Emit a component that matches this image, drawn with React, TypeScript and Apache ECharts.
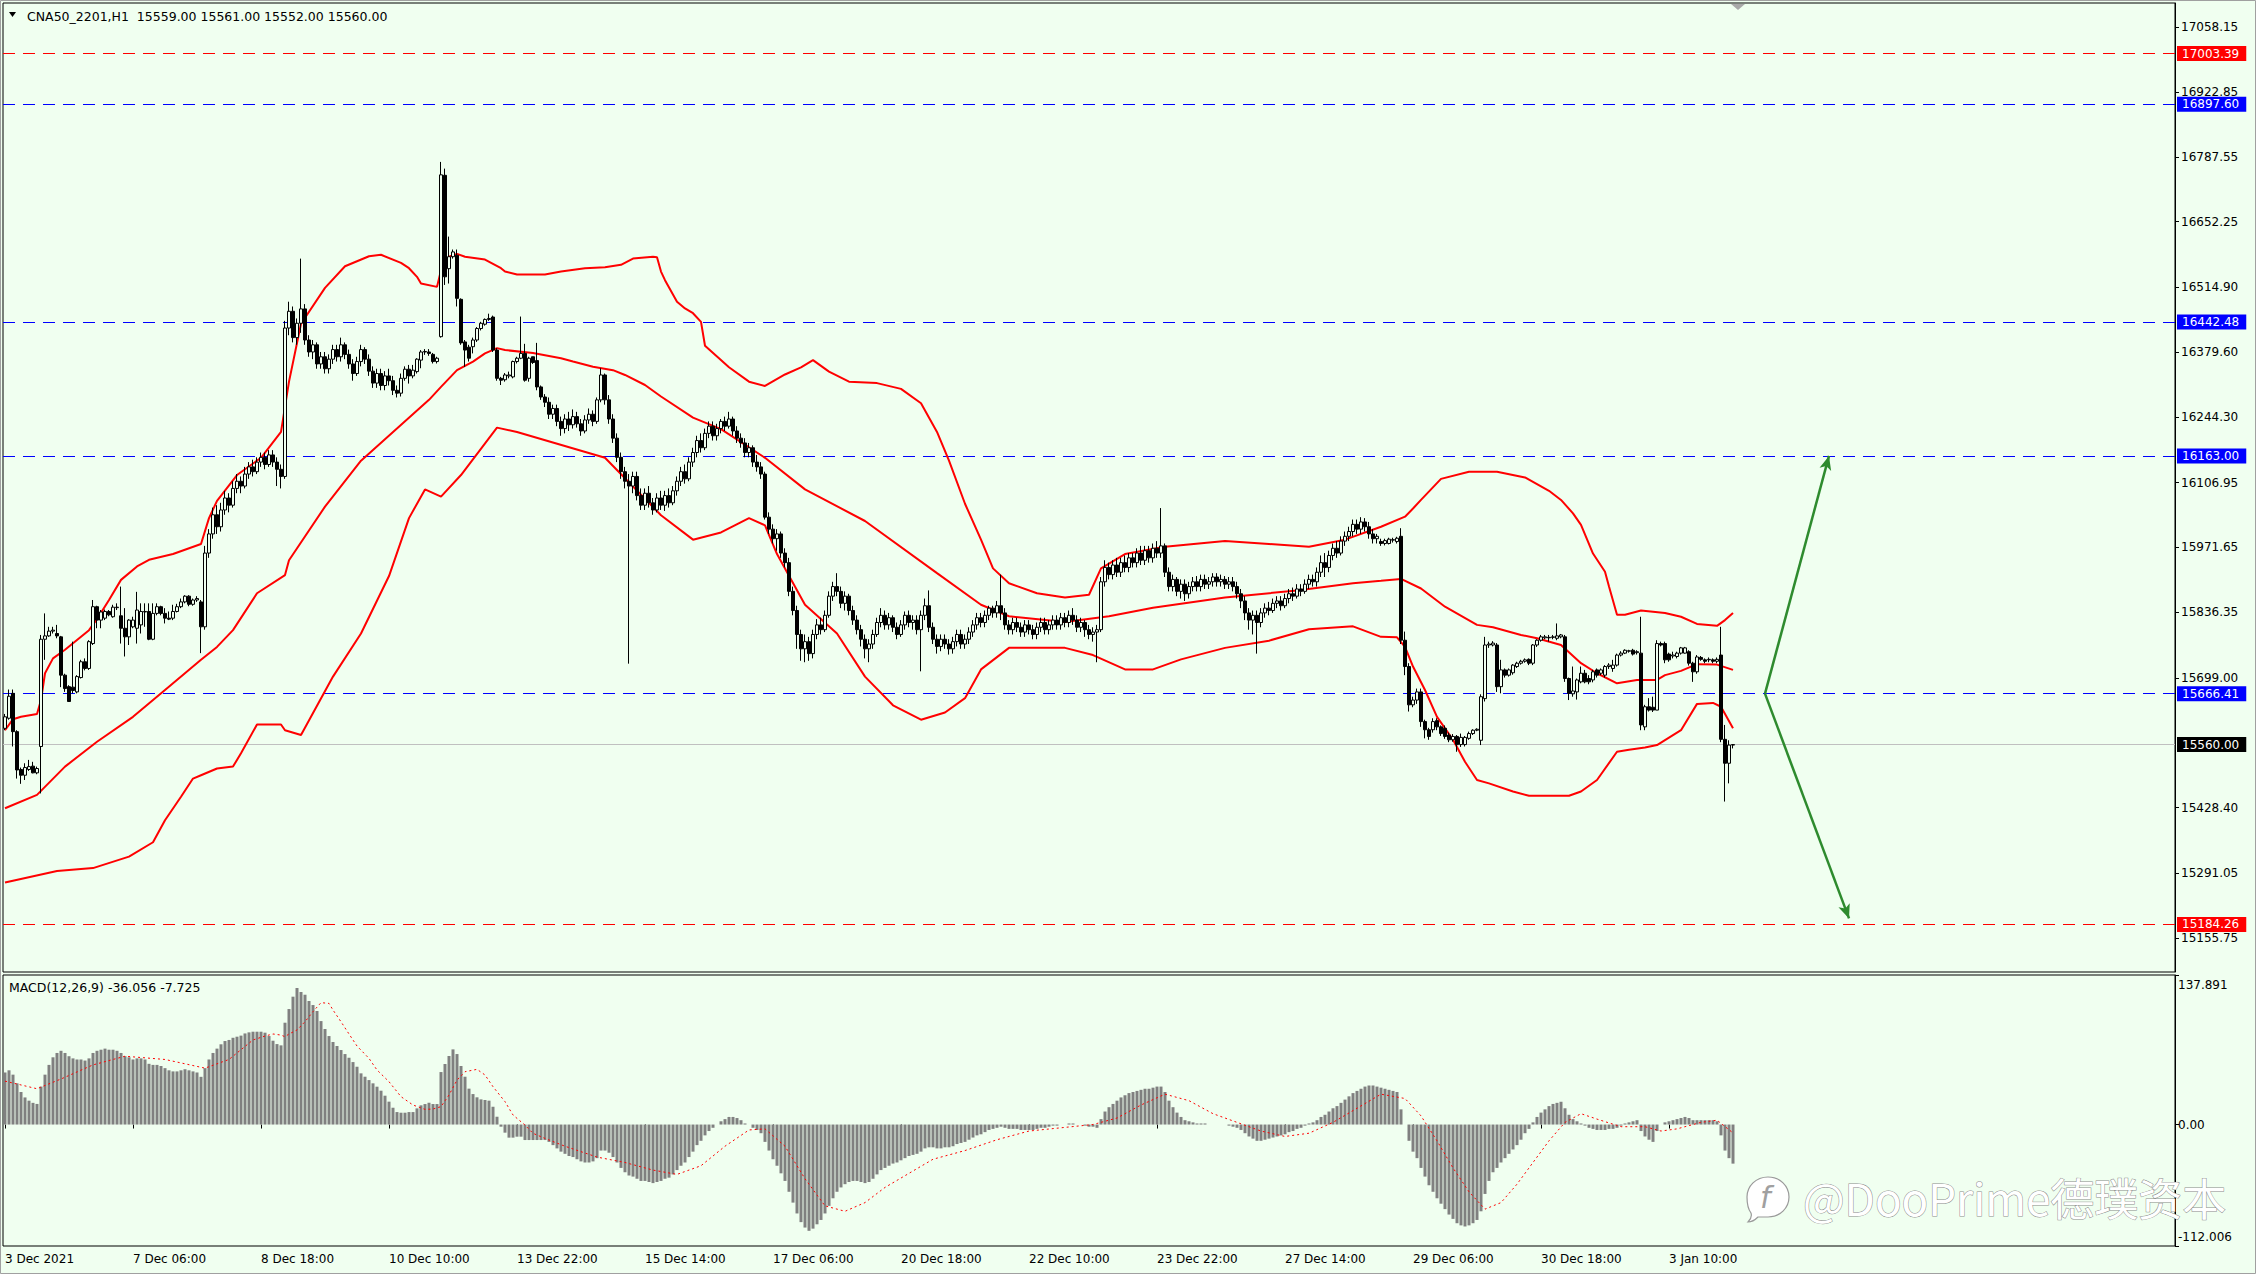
import React, { useEffect, useRef } from "react";
import * as echarts from "echarts";

const BG = "#F0FFF0";
const FONT = '"DejaVu Sans", Tahoma, sans-serif';

const chartTitle = "CNA50_2201,H1  15559.00 15561.00 15552.00 15560.00";
const macdTitle = "MACD(12,26,9) -36.056 -7.725";
const watermark = "@DooPrime德璞资本";

const timeLabels = [
  "3 Dec 2021", "7 Dec 06:00", "8 Dec 18:00", "10 Dec 10:00", "13 Dec 22:00",
  "15 Dec 14:00", "17 Dec 06:00", "20 Dec 18:00", "22 Dec 10:00", "23 Dec 22:00",
  "27 Dec 14:00", "29 Dec 06:00", "30 Dec 18:00", "3 Jan 10:00",
];
const TIME_STEP = 32;
const EMPTY_BARS = 110;

const priceMin = 15085.0;
const priceMax = 17108.9;
const priceTicks = [
  17058.15, 16922.85, 16787.55, 16652.25, 16514.9, 16379.6, 16244.3,
  16106.95, 15971.65, 15836.35, 15699.0, 15428.4, 15291.05, 15155.75,
];
const macdMin = -112.006;
const macdMax = 137.891;
const macdTicks = [137.891, 0, -112.006];
const macdTickText = ["137.891", "0.00", "-112.006"];

const resistanceLevels = [17003.39, 15184.26];
const supportLevels = [16897.6, 16442.48, 16163.0, 15666.41];
const lastPrice = 15560.0;
const arrowStart = [440, 15666.41];
const arrowUpEnd = [456, 16163.0];
const arrowDownEnd = [461, 15197.0];

// [open, close, low, high]
const candles: number[][] = [
  [15594,15618,15590,15624],[15615,15661,15612,15675],[15667,15587,15556,15675],[15587,15507,15489,15590],[15508,15496,15478,15512],
  [15496,15512,15486,15521],[15508,15514,15505,15528],[15515,15501,15500,15524],[15501,15510,15498,15514],[15556,15780,15458,15789],
  [15780,15787,15737,15834],[15787,15797,15785,15806],[15797,15799,15792,15806],[15792,15787,15782,15810],[15785,15705,15680,15787],
  [15705,15677,15670,15708],[15681,15650,15650,15684],[15680,15673,15667,15775],[15670,15702,15667,15705],[15700,15733,15698,15737],
  [15733,15719,15715,15740],[15719,15775,15716,15778],[15771,15848,15768,15862],[15848,15820,15803,15850],[15820,15837,15803,15841],
  [15824,15838,15820,15842],[15838,15831,15828,15841],[15827,15847,15825,15852],[15846,15847,15841,15855],[15829,15803,15771,15890],
  [15803,15785,15744,15845],[15785,15820,15768,15822],[15806,15820,15803,15827],[15803,15841,15771,15879],[15810,15838,15792,15855],
  [15837,15838,15806,15855],[15838,15780,15778,15855],[15780,15834,15778,15855],[15834,15848,15830,15855],[15848,15834,15830,15850],
  [15834,15824,15813,15845],[15824,15822,15820,15838],[15824,15838,15820,15852],[15838,15848,15836,15854],[15848,15858,15845,15865],
  [15858,15870,15855,15872],[15870,15853,15849,15872],[15853,15862,15850,15865],[15862,15865,15858,15870],[15858,15806,15751,15862],
  [15806,15960,15800,15975],[15960,16000,15950,16010],[16000,16040,15990,16055],[16040,16015,16000,16060],[16015,16050,16005,16065],
  [16050,16075,16040,16090],[16075,16060,16045,16085],[16060,16095,16055,16110],[16095,16110,16085,16125],[16110,16100,16085,16120],
  [16100,16125,16095,16140],[16125,16140,16115,16150],[16140,16130,16120,16155],[16130,16150,16125,16160],[16150,16160,16140,16170],
  [16160,16145,16135,16170],[16145,16165,16140,16175],[16165,16150,16140,16175],[16150,16135,16100,16160],[16135,16120,16095,16145],
  [16120,16430,16115,16445],[16430,16465,16415,16485],[16465,16410,16400,16475],[16410,16440,16395,16450],[16440,16470,16420,16575],
  [16470,16405,16395,16480],[16405,16380,16370,16415],[16380,16395,16365,16405],[16395,16355,16345,16400],[16355,16370,16345,16380],
  [16370,16345,16335,16380],[16345,16365,16335,16375],[16365,16385,16355,16395],[16385,16370,16360,16395],[16370,16395,16360,16410],
  [16395,16375,16365,16400],[16375,16355,16345,16385],[16355,16335,16320,16365],[16335,16360,16330,16370],[16360,16385,16350,16395],
  [16385,16365,16355,16390],[16365,16340,16330,16375],[16340,16315,16305,16350],[16315,16335,16305,16345],[16335,16310,16300,16345],
  [16310,16330,16300,16340],[16330,16320,16310,16345],[16320,16300,16290,16330],[16300,16294,16285,16310],[16294,16325,16287,16335],
  [16325,16344,16320,16350],[16344,16330,16314,16353],[16330,16342,16325,16353],[16339,16365,16335,16367],[16363,16380,16346,16384],
  [16380,16381,16374,16386],[16380,16377,16372,16386],[16375,16360,16356,16378],[16360,16367,16356,16370],[16412,16750,16410,16777],
  [16749,16537,16520,16763],[16554,16579,16523,16621],[16579,16589,16575,16594],[16582,16492,16475,16594],[16490,16399,16395,16492],
  [16401,16384,16349,16405],[16390,16367,16360,16395],[16391,16405,16377,16410],[16405,16429,16401,16432],[16429,16440,16425,16443],
  [16438,16448,16435,16450],[16448,16450,16445,16460],[16453,16384,16380,16456],[16384,16325,16320,16388],[16325,16321,16311,16328],
  [16322,16332,16318,16336],[16330,16332,16325,16339],[16328,16360,16325,16362],[16360,16367,16356,16370],[16367,16377,16365,16454],
  [16377,16321,16318,16397],[16325,16367,16318,16370],[16370,16358,16355,16370],[16362,16307,16300,16399],[16307,16286,16280,16310],
  [16286,16275,16265,16292],[16275,16250,16240,16285],[16250,16262,16240,16270],[16262,16235,16225,16270],[16235,16220,16205,16245],
  [16220,16240,16210,16250],[16240,16228,16215,16255],[16228,16245,16220,16260],[16245,16230,16222,16255],[16230,16215,16205,16240],
  [16215,16238,16210,16248],[16238,16250,16230,16262],[16250,16235,16225,16258],[16235,16280,16230,16285],[16280,16332,16275,16346],
  [16332,16280,16270,16335],[16280,16240,16230,16290],[16240,16200,16190,16250],[16200,16160,16150,16210],[16160,16130,16115,16170],
  [16130,16110,16095,16140],[16110,16100,15729,16125],[16100,16120,16085,16130],[16120,16080,16070,16130],[16080,16060,16050,16095],
  [16060,16085,16050,16095],[16085,16065,16055,16100],[16065,16050,16040,16075],[16050,16075,16045,16085],[16075,16060,16050,16090],
  [16060,16080,16048,16090],[16080,16065,16055,16095],[16065,16090,16060,16100],[16090,16110,16080,16120],[16110,16130,16100,16140],
  [16130,16115,16105,16145],[16115,16150,16110,16160],[16150,16170,16140,16180],[16170,16195,16160,16205],[16195,16180,16170,16210],
  [16180,16210,16175,16220],[16210,16225,16200,16235],[16225,16205,16195,16235],[16205,16220,16195,16230],[16220,16235,16210,16240],
  [16235,16225,16215,16245],[16225,16240,16220,16255],[16240,16215,16205,16245],[16215,16200,16190,16225],[16200,16190,16180,16210],
  [16190,16170,16160,16200],[16170,16180,16160,16190],[16180,16150,16140,16185],[16150,16140,16130,16165],[16140,16125,16115,16150],
  [16125,16035,16030,16130],[16035,16010,16000,16045],[16010,15990,15980,16020],[15990,16000,15965,16010],[16000,15960,15950,16005],
  [15960,15940,15930,15970],[15940,15880,15870,15950],[15880,15840,15830,15890],[15840,15790,15760,15850],[15790,15760,15735,15800],
  [15760,15775,15732,15790],[15775,15750,15735,15785],[15750,15790,15740,15800],[15790,15810,15780,15822],[15810,15800,15790,15825],
  [15800,15830,15795,15840],[15830,15870,15825,15880],[15870,15890,15860,15900],[15890,15880,15870,15918],[15880,15855,15845,15890],
  [15855,15870,15840,15880],[15870,15840,15830,15875],[15840,15820,15810,15850],[15820,15800,15790,15830],[15800,15780,15765,15810],
  [15780,15760,15740,15790],[15760,15770,15732,15780],[15770,15790,15760,15800],[15790,15815,15785,15825],[15815,15830,15805,15845],
  [15830,15810,15800,15840],[15810,15825,15800,15835],[15825,15805,15795,15830],[15805,15790,15780,15815],[15790,15810,15785,15820],
  [15810,15830,15800,15838],[15830,15815,15805,15840],[15815,15820,15800,15830],[15820,15800,15790,15830],[15800,15830,15713,15840],
  [15830,15850,15820,15865],[15850,15805,15795,15882],[15805,15780,15770,15815],[15780,15765,15750,15790],[15765,15780,15755,15790],
  [15780,15770,15760,15790],[15770,15760,15748,15780],[15760,15775,15750,15785],[15775,15790,15765,15800],[15790,15770,15760,15800],
  [15770,15780,15760,15790],[15780,15795,15770,15805],[15795,15810,15785,15820],[15810,15825,15800,15835],[15825,15815,15805,15835],
  [15815,15830,15805,15840],[15830,15845,15820,15850],[15845,15835,15825,15850],[15835,15850,15825,15860],[15850,15835,15820,15915],
  [15835,15810,15800,15845],[15810,15800,15790,15820],[15800,15815,15790,15825],[15815,15805,15795,15825],[15805,15795,15785,15815],
  [15795,15810,15785,15820],[15810,15800,15790,15820],[15800,15790,15780,15810],[15790,15805,15780,15815],[15805,15815,15795,15825],
  [15815,15800,15790,15825],[15800,15810,15790,15820],[15810,15820,15800,15830],[15820,15810,15800,15830],[15810,15825,15800,15835],
  [15825,15815,15805,15835],[15815,15830,15805,15840],[15830,15820,15810,15845],[15820,15805,15795,15830],[15805,15815,15795,15825],
  [15815,15800,15785,15820],[15800,15790,15780,15810],[15790,15795,15775,15805],[15795,15800,15732,15810],[15800,15900,15795,15910],
  [15900,15930,15890,15945],[15930,15915,15905,15940],[15915,15935,15905,15945],[15935,15920,15910,15950],[15920,15940,15910,15950],
  [15940,15930,15920,15955],[15930,15950,15920,15960],[15950,15940,15930,15960],[15940,15960,15930,15970],[15960,15945,15935,15975],
  [15945,15965,15935,15975],[15965,15950,15940,15975],[15950,15970,15940,15980],[15970,15960,15950,15985],[15960,15975,15950,16054],
  [15975,15920,15910,15980],[15920,15890,15880,15930],[15890,15905,15880,15915],[15905,15880,15870,15910],[15880,15895,15865,15905],
  [15895,15875,15860,15905],[15875,15890,15865,15900],[15890,15900,15880,15910],[15900,15890,15880,15912],[15890,15905,15880,15915],
  [15905,15895,15885,15915],[15895,15900,15885,15910],[15900,15910,15890,15918],[15910,15900,15890,15918],[15900,15905,15890,15915],
  [15905,15895,15885,15912],[15895,15900,15885,15910],[15900,15890,15880,15910],[15890,15875,15865,15900],[15875,15860,15845,15885],
  [15860,15835,15820,15870],[15835,15820,15800,15845],[15820,15830,15790,15840],[15830,15815,15750,15840],[15815,15835,15805,15845],
  [15835,15845,15825,15855],[15845,15840,15830,15858],[15840,15855,15835,15865],[15855,15860,15845,15870],[15860,15850,15840,15870],
  [15850,15865,15845,15875],[15865,15875,15855,15885],[15875,15870,15860,15888],[15870,15885,15865,15895],[15885,15880,15870,15895],
  [15880,15895,15875,15905],[15895,15905,15885,15915],[15905,15900,15890,15915],[15900,15920,15890,15930],[15920,15940,15910,15955],
  [15940,15930,15910,15960],[15930,15955,15920,15965],[15955,15970,15945,15980],[15970,15960,15950,15985],[15960,15985,15955,15995],
  [15985,15995,15975,16005],[15995,16005,15985,16015],[16005,16020,15995,16030],[16020,16010,16000,16030],[16010,16025,16000,16035],
  [16025,16015,16005,16033],[16015,16000,15990,16025],[16000,15990,15980,16010],[15990,15995,15980,16000],[15984,15980,15975,15990],
  [15980,15986,15976,15990],[15980,15989,15978,15992],[15987,15988,15982,15992],[15984,15991,15980,15994],[15995,15778,15770,16012],
  [15778,15723,15705,15796],[15723,15643,15629,15730],[15643,15653,15638,15660],[15653,15670,15645,15677],[15670,15608,15597,15677],
  [15608,15591,15573,15612],[15591,15577,15570,15595],[15591,15608,15585,15615],[15610,15597,15590,15615],[15597,15583,15578,15600],
  [15594,15577,15572,15600],[15580,15570,15565,15585],[15570,15577,15566,15582],[15577,15560,15545,15580],[15560,15575,15555,15583],
  [15560,15575,15556,15578],[15573,15583,15570,15587],[15583,15590,15580,15592],[15590,15592,15588,15594],[15569,15660,15559,15665],
  [15656,15768,15650,15785],[15768,15770,15762,15775],[15768,15772,15765,15776],[15768,15681,15670,15772],[15681,15716,15667,15737],
  [15716,15705,15700,15719],[15705,15716,15702,15719],[15710,15726,15706,15728],[15723,15730,15720,15733],[15730,15734,15727,15737],
  [15734,15737,15731,15740],[15738,15730,15726,15740],[15730,15768,15726,15770],[15768,15778,15764,15780],[15778,15785,15775,15789],
  [15783,15785,15780,15789],[15784,15783,15775,15789],[15784,15785,15780,15789],[15782,15787,15778,15813],[15785,15789,15782,15791],
  [15785,15698,15691,15789],[15698,15667,15653,15700],[15666,15672,15660,15723],[15670,15695,15654,15698],[15691,15709,15688,15723],
  [15709,15691,15688,15716],[15698,15691,15686,15705],[15695,15712,15690,15716],[15716,15705,15700,15719],[15709,15716,15705,15719],
  [15705,15723,15700,15726],[15723,15726,15718,15730],[15719,15726,15712,15737],[15726,15747,15723,15750],[15747,15751,15744,15755],
  [15751,15757,15749,15759],[15755,15756,15752,15758],[15757,15749,15746,15760],[15752,15754,15748,15757],[15751,15601,15590,15827],
  [15597,15639,15590,15643],[15639,15632,15629,15657],[15638,15632,15628,15660],[15632,15771,15632,15778],[15771,15768,15765,15775],
  [15771,15737,15730,15775],[15749,15737,15733,15752],[15745,15747,15740,15754],[15744,15751,15740,15754],[15751,15762,15748,15764],
  [15751,15762,15750,15764],[15754,15730,15725,15757],[15730,15712,15691,15733],[15712,15743,15708,15747],[15742,15738,15735,15745],
  [15737,15734,15730,15740],[15737,15738,15732,15742],[15737,15734,15730,15740],[15734,15738,15730,15742],[15747,15571,15565,15806],
  [15571,15521,15441,15601],[15521,15559,15479,15569],[15559,15560,15552,15561],
];

// Bands: [bar, price]
const upperBand: number[][] = [
  [0,15590],[2,15613],[4,15618],[8,15624],[9,15653],[10,15709],[12,15740],[15,15758],[21,15799],[23,15822],
  [26,15862],[29,15904],[33,15932],[36,15946],[42,15958],[49,15979],[51,16033],[53,16069],[58,16123],[64,16159],
  [69,16213],[71,16318],[74,16439],[80,16514],[85,16559],[91,16580],[94,16583],[99,16566],[101,16555],[103,16537],
  [104,16523],[108,16516],[109,16551],[111,16579],[113,16585],[115,16579],[120,16573],[124,16555],[125,16548],[128,16542],
  [135,16542],[139,16548],[145,16555],[150,16557],[154,16562],[157,16575],[162,16579],[163,16578],[164,16548],[165,16530],
  [168,16485],[170,16471],[172,16461],[174,16443],[175,16393],[181,16348],[186,16318],[190,16309],[195,16333],[199,16348],
  [202,16363],[206,16339],[211,16318],[218,16315],[224,16303],[229,16273],[233,16213],[236,16153],[240,16063],[244,15988],
  [247,15928],[251,15897],[258,15876],[265,15867],[271,15873],[274,15928],[280,15958],[290,15973],[305,15985],[316,15979],
  [326,15973],[335,15988],[344,16015],[350,16036],[352,16053],[354,16071],[359,16115],[366,16130],[373,16130],[380,16118],
  [386,16090],[389,16071],[392,16043],[394,16019],[397,15959],[400,15921],[401,15890],[403,15831],[405,15831],[409,15840],
  [415,15835],[419,15827],[423,15812],[428,15808],[430,15820],[432,15835],
];
const middleBand: number[][] = [
  [0,15427],[8,15455],[15,15514],[23,15566],[32,15618],[40,15674],[49,15737],[53,15764],[57,15799],[63,15876],
  [70,15914],[71,15945],[80,16057],[89,16153],[106,16280],[109,16307],[113,16342],[117,16360],[120,16377],[123,16388],
  [125,16384],[132,16378],[139,16367],[142,16360],[147,16349],[152,16342],[155,16332],[160,16311],[164,16287],[172,16243],
  [179,16219],[190,16159],[200,16093],[215,16027],[233,15918],[244,15852],[251,15828],[265,15816],[276,15828],[287,15846],
  [305,15867],[323,15882],[337,15897],[344,15902],[349,15906],[354,15886],[360,15848],[368,15810],[372,15805],[379,15789],
  [383,15782],[389,15768],[394,15730],[398,15709],[403,15688],[408,15695],[413,15695],[415,15705],[419,15714],[423,15728],
  [428,15727],[432,15716],
];
const lowerBand: number[][] = [
  [0,15272],[13,15296],[22,15302],[31,15326],[37,15356],[40,15402],[44,15451],[47,15489],[49,15496],[53,15510],
  [57,15514],[59,15542],[63,15602],[69,15602],[70,15590],[74,15580],[82,15702],[89,15792],[96,15912],[101,16033],
  [105,16093],[109,16078],[114,16123],[123,16222],[128,16213],[150,16159],[164,16039],[172,15988],[179,16003],[186,16033],
  [190,16018],[193,15958],[200,15852],[208,15792],[215,15702],[222,15642],[229,15612],[235,15627],[240,15657],[244,15717],
  [251,15762],[265,15762],[272,15747],[280,15717],[287,15717],[294,15738],[305,15762],[316,15777],[326,15801],[337,15807],
  [344,15785],[348,15784],[350,15764],[352,15723],[355,15674],[358,15618],[362,15570],[365,15524],[368,15486],[371,15479],
  [377,15462],[381,15453],[391,15453],[394,15462],[398,15486],[403,15545],[406,15549],[410,15554],[413,15559],[419,15590],
  [423,15645],[427,15647],[429,15639],[432,15594],
];

const macdMain: number[] = [
  48,50,46,38,30,25,22,20,19,35, 46,55,62,66,68,66,63,61,60,60,
  59,61,66,68,69,70,69,69,68,66, 63,62,60,61,61,60,56,55,55,54,
  52,50,49,49,50,51,50,49,48,44, 52,60,66,70,74,77,78,80,81,82,
  84,85,85.6,85.6,85.6,84.7,81.6,77.3,74.2,73, 93.9,106.5,117.9,125.9,122.2,119.7,113.9,110.2,104.7,95.4,
  88.1,81.6,76.1,72.4,68.7,65,61.6,57.6,53.3,47.2, 44.1,41,38,34.9,31.2,26.6,21.1,15.5,11.5,10.9,
  10.9,11.5,11.5,14.9,17.7,18.9,20.1,18.9,18.9,48.4, 55.8,63.2,69.3,65,54,44.1,33.1,28.1,25.1,23.2,
  22.6,22,16.4,7.2,-2,-7.5,-12.1,-12.1,-11.2,-11.2, -14.3,-14.3,-14.3,-14.3,-14.3,-14.3,-16,-19,-22,-25,
  -27,-29,-30,-32,-34,-35,-35,-34,-31,-24, -24,-26,-30,-35,-40,-44,-47,-48,-50,-52,
  -52,-53,-54,-53,-52,-50,-49,-46,-42,-38, -35,-30,-25,-19,-15,-10,-6,-3,0,3,
  5,7,7,6,4,1,0,-3,-5,-8, -16,-24,-32,-38,-45,-52,-62,-72,-82,-90,
  -95,-98,-96,-92,-88,-82,-75,-68,-62,-58, -55,-53,-52,-52,-53,-54,-53,-50,-46,-42,
  -40,-38,-36,-35,-33,-31,-29,-28,-27,-25, -22,-21,-21,-22,-22,-21,-21,-20,-18,-17,
  -16,-14,-12,-10,-9,-7,-5,-4,-3,-2, -3,-4,-4,-4,-5,-5,-5,-5,-4,-3,
  -3,-2,-1,-1,0,0,1,1,0,0, -1,-2,-2,-3,5,12,16,19,22,25,
  27,29,30,31,32,33,33,34,35,35, 30,22,16,11,7,4,3,2,1,1,
  1,0,0,0,0,0,-1,-2,-3,-5, -8,-11,-13,-15,-15,-14,-13,-12,-11,-10,
  -9,-7,-6,-4,-3,-1,1,2,4,7, 9,12,15,17,20,23,26,29,31,33,
  35,36,36,35,34,33,32,31,30,14, 0,-15,-25,-31,-40,-48,-56,-62,-68,-73,
  -78,-83,-87,-91,-93,-94,-93,-91,-88,-80, -64,-52,-44,-40,-35,-31,-27,-23,-19,-14,
  -8,-4,2,7,11,14,17,19,20,21, 15,9,5,3,1,-1,-3,-4,-5,-5,
  -5,-4,-4,-3,-1,1,2,3,4,-6, -11,-14,-16,-6,0,2,3,4,5,6,
  7,6,4,4,4,4,4,4,3,-10, -24,-31,-36.056,
];

const macdSignal: number[][] = [
  [0,40],[8,33],[14,42],[22,55],[30,63],[40,60],[50,52],[56,60],[62,78],[65,81.6],
  [67,83.5],[69,82.5],[70,81],[71,83.5],[73,87.2],[75,94.8],[77,104.1],[79,112.4],[81,111.7],[82,105.6],
  [84,94.8],[86,83.5],[88,72.4],[91,61],[93,50.3],[96,39.5],[99,25.7],[102,18],[105,14],[107,14.3],
  [109,16.5],[111,27.2],[113,41],[115,48.7],[118,50.9],[120,45.7],[122,34.9],[125,21.1],[127,8.8],[130,-0.5],
  [132,-8.1],[135,-12.8],[140,-20],[148,-30],[155,-35],[162,-42],[168,-46],[174,-38],[180,-20],[186,-5],
  [190,-4],[195,-20],[200,-50],[205,-75],[210,-80],[215,-72],[220,-58],[226,-45],[232,-32],[240,-24],
  [248,-14],[256,-6],[264,-3],[272,0],[278,6],[284,18],[290,28],[296,22],[302,10],[308,2],
  [314,-6],[320,-11],[326,-8],[332,2],[338,15],[344,28],[350,24],[354,8],[358,-15],[362,-40],
  [366,-62],[370,-78],[374,-72],[378,-55],[382,-35],[386,-15],[390,2],[394,10],[398,5],[404,-2],
  [410,-2],[414,-6],[418,-4],[424,2],[428,4],[432,-7.725],
];

export default function App() {
  const ref = useRef<HTMLDivElement>(null);
  useEffect(() => {
    if (!ref.current) return;
    echarts.graphic.registerShape(
      "dooLogo",
      echarts.graphic.extendPath(
        "M22 1C34 1 43 10 43 21C43 32 34 41 22 41L12 41C9 44 5 46 2 46C5 43 6 40 5 37C2 33 1 27 1 21C1 10 10 1 22 1Z",
        {}
      ) as any
    );
    const chart = echarts.init(ref.current, null, { renderer: "svg" });
    const N = candles.length + EMPTY_BARS;
    const cats = Array.from({ length: N }, (_, i) => String(i));
    const labelInterval = (idx: number) => idx % TIME_STEP === 0 && idx / TIME_STEP < timeLabels.length;

    const lvl = (p: number, color: string, lineColor: string, dashed: boolean) => ({
      yAxis: p,
      lineStyle: { color: lineColor, width: 1, type: dashed ? [12, 8] : "solid" },
      label: {
        show: true,
        position: "end",
        formatter: p.toFixed(2),
        backgroundColor: color,
        color: "#fff",
        padding: [2, 7, 1, 5],
        distance: 2,
        fontFamily: FONT,
        fontSize: 12,
      },
    });
    const arrow = (to: number[]) => [
      { coord: arrowStart, symbol: "none", lineStyle: { color: "#2E8B2E", width: 2.5, type: "solid" }, label: { show: false } },
      { coord: to, symbol: "arrow", symbolSize: [9, 14], lineStyle: { color: "#2E8B2E", width: 2.5, type: "solid" }, label: { show: false } },
    ];

    const bandSeries = (data: number[][]) => ({
      type: "line",
      xAxisIndex: 0,
      yAxisIndex: 0,
      data,
      symbol: "none",
      silent: true,
      z: 3,
      lineStyle: { color: "#FF0000", width: 2 },
    });

    chart.setOption({
      animation: false,
      backgroundColor: BG,
      grid: [
        { left: 3, top: 3, width: N * 4, height: 969, show: true, borderColor: "#000", borderWidth: 1, outerBoundsMode: "none" },
        { left: 3, top: 975, width: N * 4, height: 271, show: true, borderColor: "#000", borderWidth: 1, outerBoundsMode: "none" },
      ],
      xAxis: [
        { type: "category", gridIndex: 0, data: cats, boundaryGap: true, show: false },
        {
          type: "category",
          gridIndex: 1,
          data: cats,
          boundaryGap: true,
          axisLine: { show: false },
          axisTick: { show: true, alignWithLabel: true, interval: labelInterval, length: 4, lineStyle: { color: "#000" } },
          axisLabel: {
            interval: labelInterval,
            formatter: (_v: string, idx: number) => timeLabels[Math.round(idx / TIME_STEP)] ?? "",
            align: "left",
            margin: 7,
            color: "#000",
            fontFamily: FONT,
            fontSize: 12,
          },
          splitLine: { show: false },
        },
      ],
      yAxis: [
        {
          type: "value",
          gridIndex: 0,
          position: "right",
          min: priceMin,
          max: priceMax,
          splitLine: { show: false },
          axisLine: { show: true, lineStyle: { color: "#000" } },
          axisTick: { show: true, customValues: priceTicks, length: 4, lineStyle: { color: "#000" } },
          axisLabel: {
            customValues: priceTicks,
            formatter: (v: number) => v.toFixed(2),
            color: "#000",
            fontFamily: FONT,
            fontSize: 12,
            margin: 6,
          },
        },
        {
          type: "value",
          gridIndex: 1,
          position: "right",
          min: macdMin,
          max: macdMax,
          splitLine: { show: false },
          axisLine: { show: true, lineStyle: { color: "#000" } },
          axisTick: { show: true, customValues: macdTicks, length: 4, lineStyle: { color: "#000" } },
          axisLabel: {
            customValues: macdTicks,
            formatter: (v: number) => {
              const i = macdTicks.findIndex((t) => Math.abs(t - v) < 1e-6);
              const txt = i >= 0 ? macdTickText[i] : v.toFixed(2);
              if (i === 0) return "{top|" + txt + "}";
              if (i === 2) return "{bot|" + txt + "}";
              return txt;
            },
            rich: {
              top: { padding: [20, 0, 0, 0], fontFamily: FONT, fontSize: 12, color: "#000" },
              bot: { padding: [0, 0, 18, 0], fontFamily: FONT, fontSize: 12, color: "#000" },
            },
            color: "#000",
            fontFamily: FONT,
            fontSize: 12,
            margin: 3,
          },
        },
      ],
      series: [
        bandSeries(upperBand),
        bandSeries(middleBand),
        bandSeries(lowerBand),
        {
          type: "candlestick",
          xAxisIndex: 0,
          yAxisIndex: 0,
          data: candles,
          barWidth: 3,
          z: 4,
          itemStyle: { color: BG, color0: "#000", borderColor: "#000", borderColor0: "#000", borderWidth: 1 },
          markLine: {
            silent: true,
            symbol: ["none", "none"],
            z: 2,
            data: [
              ...resistanceLevels.map((p) => lvl(p, "#FF0000", "#FF0000", true)),
              ...supportLevels.map((p) => lvl(p, "#0000FF", "#0000FF", true)),
              lvl(lastPrice, "#000000", "#C0C0C0", false),
            ],
          },
        },
        {
          type: "line",
          xAxisIndex: 0,
          yAxisIndex: 0,
          data: [],
          markLine: {
            silent: true,
            z: 6,
            data: [arrow(arrowUpEnd), arrow(arrowDownEnd)],
          },
        },
        {
          type: "bar",
          xAxisIndex: 1,
          yAxisIndex: 1,
          data: macdMain,
          barWidth: 3,
          silent: true,
          itemStyle: { color: "#808080" },
        },
        {
          type: "line",
          xAxisIndex: 1,
          yAxisIndex: 1,
          data: macdSignal,
          symbol: "none",
          silent: true,
          z: 5,
          lineStyle: { color: "#FF0000", width: 1, type: [2, 3] },
        },
      ],
      graphic: [
        { type: "rect", shape: { x: 0.5, y: 0.5, width: 2255, height: 1273 }, style: { fill: "none", stroke: "#A0A0A0", lineWidth: 1 }, silent: true },
        { type: "polygon", shape: { points: [[9, 12], [16, 12], [12.5, 17]] }, style: { fill: "#000" } },
        { type: "text", x: 27, y: 16, style: { text: chartTitle, fill: "#000", font: "12.5px " + FONT, verticalAlign: "middle" } },
        { type: "text", x: 9, y: 987, style: { text: macdTitle, fill: "#000", font: "12.5px " + FONT, verticalAlign: "middle" } },
        { type: "polygon", shape: { points: [[1731, 4], [1745, 4], [1738, 10]] }, style: { fill: "#A8A8A8" } },
        {
          type: "dooLogo",
          x: 1746,
          y: 1176,
          scaleX: 1,
          scaleY: 1,
          style: { fill: "#FFFFFF", stroke: "#9A9A9A", lineWidth: 1.2 },
          z: 50,
        },
        {
          type: "text",
          x: 1760,
          y: 1197,
          z: 51,
          style: { text: "f", fill: "#A0A0A0", font: 'italic 30px "DejaVu Sans"', verticalAlign: "middle" },
        },
        {
          type: "text",
          x: 1803,
          y: 1197,
          z: 50,
          style: {
            text: watermark,
            fill: "#FFFFFF",
            stroke: "#8C8C8C",
            lineWidth: 1,
            font: '44px "Noto Sans CJK SC", "Noto Sans", sans-serif',
            verticalAlign: "middle",
          },
        },
      ],
    });
    return () => chart.dispose();
  }, []);
  return (
    <div
      ref={ref}
      style={{ position: "fixed", left: 0, top: 0, width: 2256, height: 1274, background: BG }}
    />
  );
}
